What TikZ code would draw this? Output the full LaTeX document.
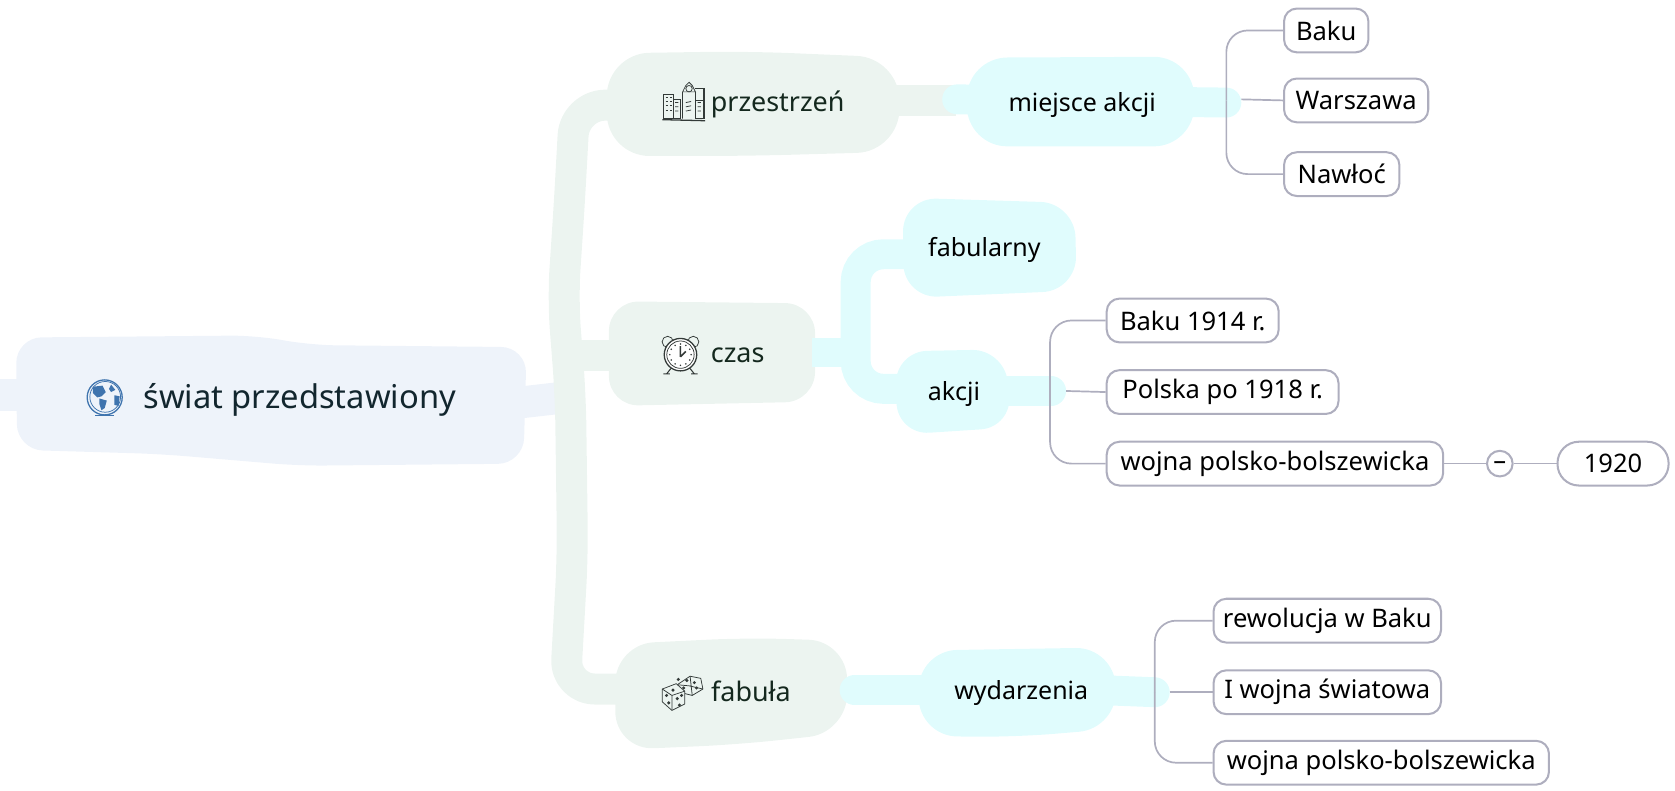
\documentclass[tikz,border=0pt]{standalone}
\usepackage{fontspec}
\setmainfont{Noto Sans}
\definecolor{rootc}{HTML}{EEF3FA}
\definecolor{greenc}{HTML}{ECF4F0}
\definecolor{cyanc}{HTML}{E0FCFD}
\definecolor{linec}{HTML}{AEAEBE}
\definecolor{roott}{HTML}{12262E}
\definecolor{greent}{HTML}{14281E}
\definecolor{globec}{HTML}{3F74AE}
\definecolor{iconc}{HTML}{333A38}
\tikzset{
  x=0.5pt,y=-0.5pt,
  rootblob/.style={fill=rootc,draw=none,rounded corners=12pt},
  greenblob/.style={fill=greenc,draw=none,rounded corners=14pt},
  cyanblob/.style={fill=cyanc,draw=none,rounded corners=16pt},
  greenstub/.style={draw=greenc,line width=14.5pt},
  cyanstub/.style={draw=cyanc,line width=14pt},
  leaf/.style={draw=linec,line width=0.95pt,fill=white,rounded corners=6pt,text=black,
    font=\fontsize{11.95}{14}\selectfont,inner sep=0pt,minimum height=20.5pt},
  conn/.style={draw=linec,line width=0.8pt,rounded corners=10pt},
  lone/.style={text=greent,font=\fontsize{12.6}{15}\selectfont,inner sep=0pt},
  ltwo/.style={text=black,font=\fontsize{11.7}{14}\selectfont,inner sep=0pt},
  ic/.style={draw=iconc,line width=0.35pt},
  toggle/.style={circle,draw=linec,line width=0.95pt,fill=white,minimum size=12pt,inner sep=0pt,text=black,
    font=\fontsize{12}{12}\selectfont,text height=0.58em,text depth=0pt},
}
\begin{document}
\begin{tikzpicture}
\useasboundingbox (0,0) rectangle (1568,739.6);
% ---- root stubs and blob
\fill[rootc] (0,355) -- (20,355) -- (20,385) -- (0,385) -- cycle;
\fill[rootc] (485,362) -- (520,358) -- (520,388) -- (485,392) -- cycle;
\path[rootblob] (15,316) -- (240,314) -- (290,323) -- (493,325) -- (490,434) -- (280,436) -- (150,425) -- (16,421) -- cycle;
% ---- green trunk
\draw[greenstub,line join=round,rounded corners=14pt] (590,98) -- (538,99) -- (533,190) -- (527,280) -- (534,370) -- (536,520) -- (529,645) -- (590,645);
\draw[greenstub] (530,333) -- (590,333);
% ---- green blobs
\path[greenblob,rounded corners=20pt] (568,50) -- (700,48) -- (842,54) -- (842,142) -- (700,146) -- (568,146) -- cycle;
\path[greenblob] (570,282) -- (763,284) -- (763,376) -- (570,380) -- cycle;
\path[greenblob,rounded corners=18pt] (576,603) -- (700,597) -- (793,600) -- (793,686) -- (690,697) -- (576,702) -- cycle;
\draw[greenstub] (835,94.5) -- (895,94.5);
% ---- cyan stubs and blobs
\draw[cyanstub,line cap=round] (896,93) -- (1148,96);
\path[cyanblob,rounded corners=19pt] (905,54) -- (1118,53) -- (1118,137) -- (905,137) -- cycle;
\draw[cyanstub] (760,330) -- (801,330);
\draw[cyanstub,rounded corners=13pt] (860,238) -- (801,238) -- (801,364) -- (860,364);
\path[cyanblob] (845,185) -- (1006,190) -- (1008,272) -- (846,279) -- cycle;
\path[cyanblob,rounded corners=15pt] (838,329) -- (940,327) -- (948,400) -- (840,407) -- cycle;
\draw[cyanstub,line cap=round] (930,366) -- (984,366);
\draw[cyanstub,line cap=round] (800,646) -- (870,646);
\path[cyanblob,rounded corners=18pt] (860,609) -- (1043,606) -- (1046,682) -- (950,690) -- (860,689) -- cycle;
\draw[cyanstub,line cap=round] (1030,646) -- (1081,648);
% ---- connector hubs
\coordinate (hubA) at (1148,94);
\coordinate (hubAe) at (1162,93);
\coordinate (hubB) at (983,366);
\coordinate (hubBe) at (998,366);
\coordinate (hubC) at (1081,648);
\coordinate (hubCe) at (1095,648);
% ---- leaves
\node[leaf,minimum width=39.5pt] (baku) at (1241.5,28.5) {Baku};
\node[leaf,minimum width=67.5pt] (warszawa) at (1269.5,94) {Warszawa};
\node[leaf,minimum width=54pt] (nawloc) at (1256,163) {Nawłoć};
\node[leaf,minimum width=80.5pt] (baku14) at (1116.5,300) {Baku 1914 r.};
\node[leaf,minimum width=108.5pt] (polska) at (1144.5,367) {Polska po 1918 r.};
\node[leaf,minimum width=157.5pt] (wojna) at (1193.5,434) {wojna polsko-bolszewicka};
\node[toggle] (tog) at (1404,434) {–};
\node[leaf,minimum width=52pt,rounded corners=10pt] (rok) at (1510,434) {1920};
\node[leaf,minimum width=106.5pt] (rew) at (1242.5,581) {rewolucja w Baku};
\node[leaf,minimum width=106.5pt] (iwojna) at (1242.5,648) {I wojna światowa};
\node[leaf,minimum width=157pt] (wojnab) at (1293,714) {wojna polsko-bolszewicka};
% ---- connectors
\draw[conn] (baku.west) -| (hubA);
\draw[conn] (nawloc.west) -| (hubA);
\draw[conn] (hubAe) -- (warszawa.west);
\draw[conn] (baku14.west) -| (hubB);
\draw[conn] (wojna.west) -| (hubB);
\draw[conn] (hubBe) -- (polska.west);
\draw[conn] (wojna.east) -- (tog.west);
\draw[conn] (tog.east) -- (rok.west);
\draw[conn] (rew.west) -| (hubC);
\draw[conn] (wojnab.west) -| (hubC);
\draw[conn] (hubCe) -- (iwojna.west);
% ---- blob labels
\node[text=roott,font=\fontsize{15.3}{18}\selectfont,inner sep=0pt] (swiat) at (280.5,374) {świat przedstawiony};
\node[lone] (przestrzen) at (728,97.5) {przestrzeń};
\node[lone] (czas) at (690.5,333) {czas};
\node[lone] (fabula) at (703,647) {fabuła};
\node[ltwo] (miejsce) at (1013,98) {miejsce akcji};
\node[ltwo] (fabularny) at (921.5,233.5) {fabularny};
\node[ltwo] (akcji) at (893,369) {akcji};
\node[ltwo] (wydarzenia) at (956,649) {wydarzenia};
% ---- icon: globe
\begin{scope}[shift={(98,372)}]
  \draw[globec,line width=0.6pt] (0,0) circle (8.2pt);
  \draw[globec,line width=0.35pt] (0.5,-0.5) circle (7.2pt);
  \fill[globec] (-11,-10) -- (-2,-11) -- (1,-5) -- (-3,-1) -- (-7,0) -- (-11,-4) -- cycle;
  \fill[globec] (-5,1) -- (2,3) -- (0,10) -- (-3,12) -- (-5,6) -- cycle;
  \fill[globec] (6,-12) -- (10,-7) -- (6,-5) -- (4,-8) -- cycle;
  \fill[globec] (9,-2) -- (14,-1) -- (13,8) -- (9,7) -- cycle;
  \draw[globec,line width=0.7pt] (-9,17) -- (9,17);
\end{scope}
% ---- icon: buildings
\begin{scope}[shift={(620,80)},ic]
  \draw (1,8) rectangle (10,31);
  \draw (10,13) rectangle (17,31);
  \draw (19,6) -- (19,31) (31,6) -- (31,31) (19,6) -- (22,0) -- (25,-3) -- (28,0) -- (31,6) -- cycle;
  \draw (25,3) circle (1.5pt);
  \draw (31,14) rectangle (38,31);
  \draw (38,3) rectangle (39.5,31) (31,3) -- (39.5,3);
  \foreach \p in {3,7}{\foreach \q in {11,15,19,23}{\draw (\p,\q) -- +(2,0);}}
  \foreach \q in {16,20,24}{\draw (12,\q) -- +(3,0) (22,\q) -- +(5,-1) (33,\q) -- +(3,0);}
  \draw[line width=0.6pt] (0,32) -- (40,33);
\end{scope}
% ---- icon: clock
\begin{scope}[shift={(637,332)},ic]
  \draw[fill=greenc] (-12,-12) circle (2.6pt);
  \draw[fill=greenc] (12,-12) circle (2.6pt);
  \draw[line width=0.6pt,fill=white] (0,0) circle (7.6pt);
  \draw (0,0) circle (6.4pt);
  \draw[line width=0.7pt] (0,2) -- (0,-8) (0,2) -- (5,-3);
  \foreach \a in {0,30,...,330}{\fill[iconc] (\a:10) circle (0.4pt);}
  \draw[line width=0.5pt] (-9,13) -- (-13,18) (9,13) -- (13,18) (-16,18) -- (-10,18) (10,18) -- (16,18);
\end{scope}
% ---- icon: dice
\begin{scope}[shift={(638,648)},ic]
  \draw[fill=greenc,line join=round] (-4,-7) -- (8,-15) -- (18,-13) -- (20,-3) -- (10,3) -- (-2,0) -- cycle;
  \draw (8,-15) -- (10,3) (-4,-7) -- (7,-6) (7,-6) -- (20,-3);
  \draw[fill=greenc,line join=round] (-18,-3) -- (-5,-8) -- (3,-1) -- (3,11) -- (-9,17) -- (-18,9) -- cycle;
  \draw (-18,-3) -- (-9,3) -- (3,-1) (-9,3) -- (-9,17);
  \foreach \p in {(-8,-2),(-14,3),(-12,10),(-4,6),(-2,12),(0,3),(5,-11),(12,-9),(14,-4),(2,-4),(-3,-12)}{\fill[iconc] \p circle (0.8pt);}
\end{scope}
\end{tikzpicture}
\end{document}
